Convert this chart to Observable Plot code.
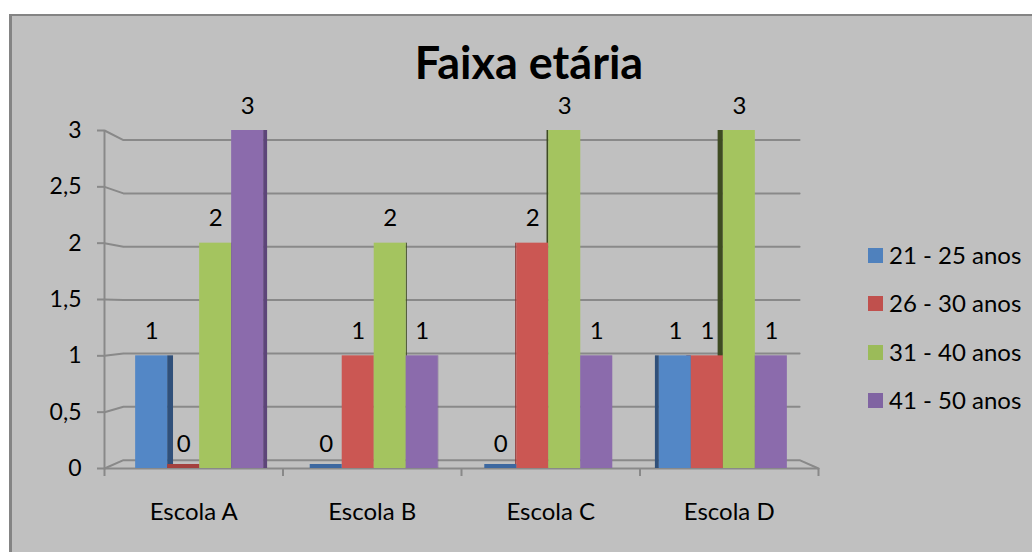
<!DOCTYPE html>
<html>
<head>
<meta charset="utf-8">
<script src="https://cdn.jsdelivr.net/npm/d3@7"></script>
<script src="https://cdn.jsdelivr.net/npm/@observablehq/plot@0.6"></script>
<style>
  html, body { margin: 0; padding: 0; background: #fff; width: 1032px; height: 552px; overflow: hidden; font-family: Lato, sans-serif; }
  #panel { position: absolute; left: 9px; top: 14px; width: 1100px; height: 600px; background: #c0c0c0;
           border-left: 3px solid #848484; border-top: 2px solid #848484; }
  #chart { position: absolute; left: 0; top: 0; }
  #title { position: absolute; left: 0; width: 1058px; top: 40px; text-align: center;
           font: 700 45px/44px Lato, sans-serif; color: #000; }
  #legend { position: absolute; left: 0; top: 0; }
  .item { position: absolute; white-space: nowrap; font: 24px/24px Lato, sans-serif; color: #000; }
  .sw { position: absolute; width: 15px; height: 15px; }
</style>
</head>
<body>
<div id="panel"></div>
<div id="chart"></div>
<div id="title">Faixa etária</div>
<div id="legend"></div>
<script>
// Age bands of staff per school
const escolas = ["Escola A", "Escola B", "Escola C", "Escola D"];
const faixas = ["21 - 25 anos", "26 - 30 anos", "31 - 40 anos", "41 - 50 anos"];
const anos21a25 = [1, 0, 0, 1];
const anos26a30 = [0, 1, 2, 1];
const anos31a40 = [2, 2, 3, 3];
const anos41a50 = [3, 1, 1, 1];
const yTicks = [0, 0.5, 1, 1.5, 2, 2.5, 3];

const series = [anos21a25, anos26a30, anos31a40, anos41a50];

// palette: front faces, shaded side faces, flat floor slabs, legend swatches
const faceColors = ["#5387c6", "#cb5753", "#a4c45f", "#8b6bac"];
const sideColors = ["#30507a", "#8e3633", "#3e4b22", "#5d4579"];
const floorColors = ["#3d68a0", "#a4413e", "#7d9a45", "#6a4f8a"];
const swatchColors = ["#4f81bd", "#c0504d", "#9bbb59", "#8064a2"];
const GRID = "#898989";

const rows = escolas.flatMap((escola, i) =>
  faixas.map((faixa, j) => ({escola, faixa, i, j, value: series[j][i]}))
);

// pseudo-3D: things further back shrink toward a vanishing point (in data units)
const VX = 2, VY = 1.4;
const BAR_DEPTH = 0.978, SIDE_DEPTH = 0.98, WALL_DEPTH = 0.947;
const BAR_W = 0.1833;
const recede = (x, k) => VX + k * (x - VX);
const recedeY = (y, k) => VY + k * (y - VY);
const barLeft = d => recede(d.i + 0.5 + (d.j - 2) * BAR_W, BAR_DEPTH);
const barRight = d => recede(d.i + 0.5 + (d.j - 1) * BAR_W, BAR_DEPTH);
const barMid = d => (barLeft(d) + barRight(d)) / 2;
// visible side face: right side left of the vanishing point, left side right of it
const sideX1 = d => barMid(d) < VX ? barRight(d) : recede(barLeft(d), SIDE_DEPTH);
const sideX2 = d => barMid(d) < VX ? recede(barRight(d), SIDE_DEPTH) : barLeft(d);

// back wall gridlines, joined to the front axis ticks; the floor line wraps round
const wall = yTicks.flatMap(v => {
  const pts = [
    {v, x: 0, y: v},
    {v, x: recede(0, WALL_DEPTH), y: recedeY(v, WALL_DEPTH)},
    {v, x: recede(escolas.length, WALL_DEPTH), y: recedeY(v, WALL_DEPTH)}
  ];
  if (v === 0) pts.push({v, x: escolas.length, y: 0});
  return pts;
});

const comma = d => String(d).replace(".", ",");

const sideMarks = faixas.map((faixa, j) =>
  Plot.rect(rows.filter(d => d.j === j && d.value > 0), {
    x1: sideX1, x2: sideX2, y1: 0, y2: "value", fill: sideColors[j]
  })
);
const floorMarks = faixas.map((faixa, j) =>
  Plot.rect(rows.filter(d => d.j === j && d.value === 0), {
    x1: barLeft, x2: barRight, y1: 0, y2: 0, insetTop: -4, fill: floorColors[j]
  })
);

const plot = Plot.plot({
  width: 1032,
  height: 552,
  marginLeft: 104,
  marginRight: 214,
  marginTop: 130,
  marginBottom: 84,
  style: {background: "transparent", fontFamily: "Lato, sans-serif", color: "#000"},
  x: {type: "linear", domain: [0, escolas.length]},
  y: {domain: [0, 3]},
  color: {domain: faixas, range: faceColors},
  marks: [
    Plot.line(wall, {x: "x", y: "y", z: "v", stroke: GRID, strokeWidth: 2}),
    Plot.ruleY([0], {stroke: GRID, strokeWidth: 2}),
    Plot.ruleX([0], {y1: 3, y2: 0, stroke: GRID, strokeWidth: 2}),
    Plot.axisY(yTicks, {
      tickSize: 7, tickPadding: 16, tickFormat: comma, label: null,
      stroke: GRID, strokeWidth: 2, fill: "#000", fontSize: 23
    }),
    Plot.axisX(d3.range(escolas.length + 1), {
      tickSize: 8, tickFormat: () => "", label: null, stroke: GRID, strokeWidth: 2
    }),
    Plot.text(escolas, {
      x: (d, i) => i + 0.5, frameAnchor: "bottom", lineAnchor: "bottom", dy: 51,
      text: d => d, fontSize: 24, fill: "#000"
    }),
    ...sideMarks,
    Plot.rect(rows.filter(d => d.value > 0), {
      x1: barLeft, x2: barRight, y1: 0, y2: "value", fill: "faixa"
    }),
    ...floorMarks,
    Plot.text(rows, {
      x: barMid, y: "value", text: d => String(d.value),
      lineAnchor: "bottom", dy: -17, fontSize: 24, fill: "#000"
    })
  ]
});
document.getElementById("chart").append(plot);

// legend to the right of the plot area
const legend = d3.select("#legend");
faixas.forEach((faixa, j) => {
  const top = 248 + j * 48.3;
  legend.append("div").attr("class", "sw")
    .style("left", "868px").style("top", `${top}px`).style("background", swatchColors[j]);
  legend.append("div").attr("class", "item")
    .style("left", "889px").style("top", `${top - 5}px`).text(faixa);
});
</script>
</body>
</html>
